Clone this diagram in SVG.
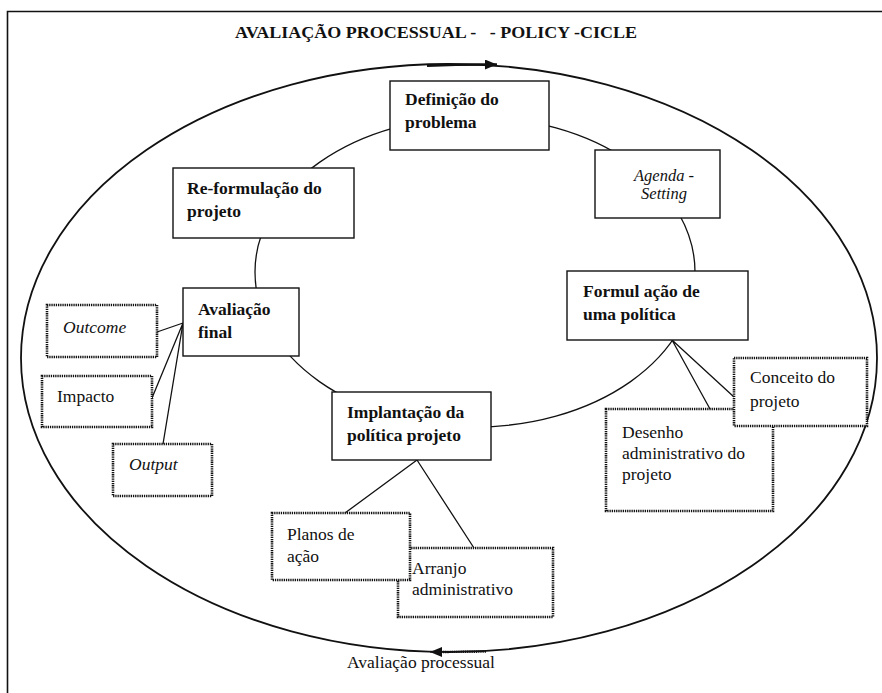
<svg xmlns="http://www.w3.org/2000/svg" width="882" height="693" viewBox="0 0 882 693" font-family="'Liberation Serif','Times New Roman',serif">
<style>
text{font-family:"Liberation Serif","Times New Roman",serif;font-size:17.5px;fill:#111}
.b{font-weight:bold}
.i{font-style:italic}
.solid{fill:#fff;stroke:#111;stroke-width:1.4}
.dot{fill:#fff;stroke:#111;stroke-width:2.6;stroke-dasharray:1.3 0.9}
.ln{fill:none;stroke:#111;stroke-width:1.3}
</style>
<defs>
<marker id="ah" viewBox="0 0 12 10" refX="12" refY="5" markerWidth="12" markerHeight="10" markerUnits="userSpaceOnUse" orient="auto">
<path d="M0,0 L12,5 L0,10 Z" fill="#111"/>
</marker>
</defs>
<rect width="882" height="693" fill="#fff"/>
<path d="M882,11.5 H7.5 V693" fill="none" stroke="#111" stroke-width="1.6"/>
<text class="b" x="235" y="38" font-size="17" textLength="402" lengthAdjust="spacingAndGlyphs" xml:space="preserve">AVALIAÇÃO PROCESSUAL -   - POLICY -CICLE</text>

<g id="connectors">
<ellipse cx="449" cy="358" rx="428" ry="294" fill="none" stroke="#111" stroke-width="1.8"/>
<path d="M427,65.6 Q460,64.4 497,64.6" fill="none" stroke="#111" stroke-width="2.6" marker-end="url(#ah)"/>
<path d="M486,651.6 L441,652" fill="none" stroke="#111" stroke-width="2.4" stroke-dasharray="1.3 0.9"/>
<path d="M442,652 L430,652" fill="none" stroke="#111" stroke-width="1" marker-end="url(#ah)"/>
<ellipse cx="475" cy="272" rx="220" ry="155" class="ln"/>
<path class="ln" d="M183,323 L157,332 M183,323 L152,398 M183,323 L163,444"/>
<path class="ln" d="M672,340 L734,397 M672,340 L710,409"/>
<path class="ln" d="M417,460 L345,513 M417,460 L474,548"/>
</g>

<g id="definicao">
<rect class="solid" x="390" y="81" width="159" height="69"/>
<text class="b" x="405" y="105">Definição do</text>
<text class="b" x="405" y="128">problema</text>
</g>
<g id="agenda">
<rect class="solid" x="595" y="150" width="125" height="68"/>
<text class="i" x="664" y="181" text-anchor="middle" style="font-size:16.5px">Agenda -</text>
<text class="i" x="664" y="199" text-anchor="middle" style="font-size:16.5px">Setting</text>
</g>
<g id="reformulacao">
<rect class="solid" x="173" y="168" width="181" height="70"/>
<text class="b" x="187" y="194">Re-formulação do</text>
<text class="b" x="187" y="217">projeto</text>
</g>
<g id="formulacao">
<rect class="solid" x="567" y="271" width="181" height="69"/>
<text class="b" x="583" y="297">Formul ação de</text>
<text class="b" x="583" y="320">uma política</text>
</g>
<g id="avaliacao-final">
<rect class="solid" x="183" y="288" width="116" height="68"/>
<text class="b" x="198" y="315">Avaliação</text>
<text class="b" x="198" y="338">final</text>
</g>
<g id="implantacao">
<rect class="solid" x="332" y="392" width="159" height="68"/>
<text class="b" x="347" y="418">Implantação da</text>
<text class="b" x="347" y="441">política projeto</text>
</g>
<g id="outcome">
<rect class="dot" x="47" y="305" width="110" height="52"/>
<text class="i" x="63" y="333">Outcome</text>
</g>
<g id="impacto">
<rect class="dot" x="42" y="376" width="110" height="51"/>
<text x="57" y="402">Impacto</text>
</g>
<g id="output">
<rect class="dot" x="113" y="444" width="99" height="52"/>
<text class="i" x="129" y="470">Output</text>
</g>
<g id="desenho">
<rect class="dot" x="606" y="409" width="167" height="102"/>
<text x="622" y="438">Desenho</text>
<text x="622" y="459">administrativo do</text>
<text x="622" y="480">projeto</text>
</g>
<g id="conceito">
<rect class="dot" x="734" y="358" width="133" height="68"/>
<text x="750" y="383">Conceito do</text>
<text x="750" y="407">projeto</text>
</g>
<g id="arranjo">
<rect class="dot" x="398" y="548" width="155" height="69"/>
<text x="412" y="574">Arranjo</text>
<text x="412" y="595">administrativo</text>
</g>
<g id="planos">
<rect class="dot" x="272" y="513" width="138" height="67"/>
<text x="287" y="540">Planos de</text>
<text x="287" y="562">ação</text>
</g>
<g id="avaliacao-processual">
<text x="347" y="668">Avaliação processual</text>
</g>
</svg>
